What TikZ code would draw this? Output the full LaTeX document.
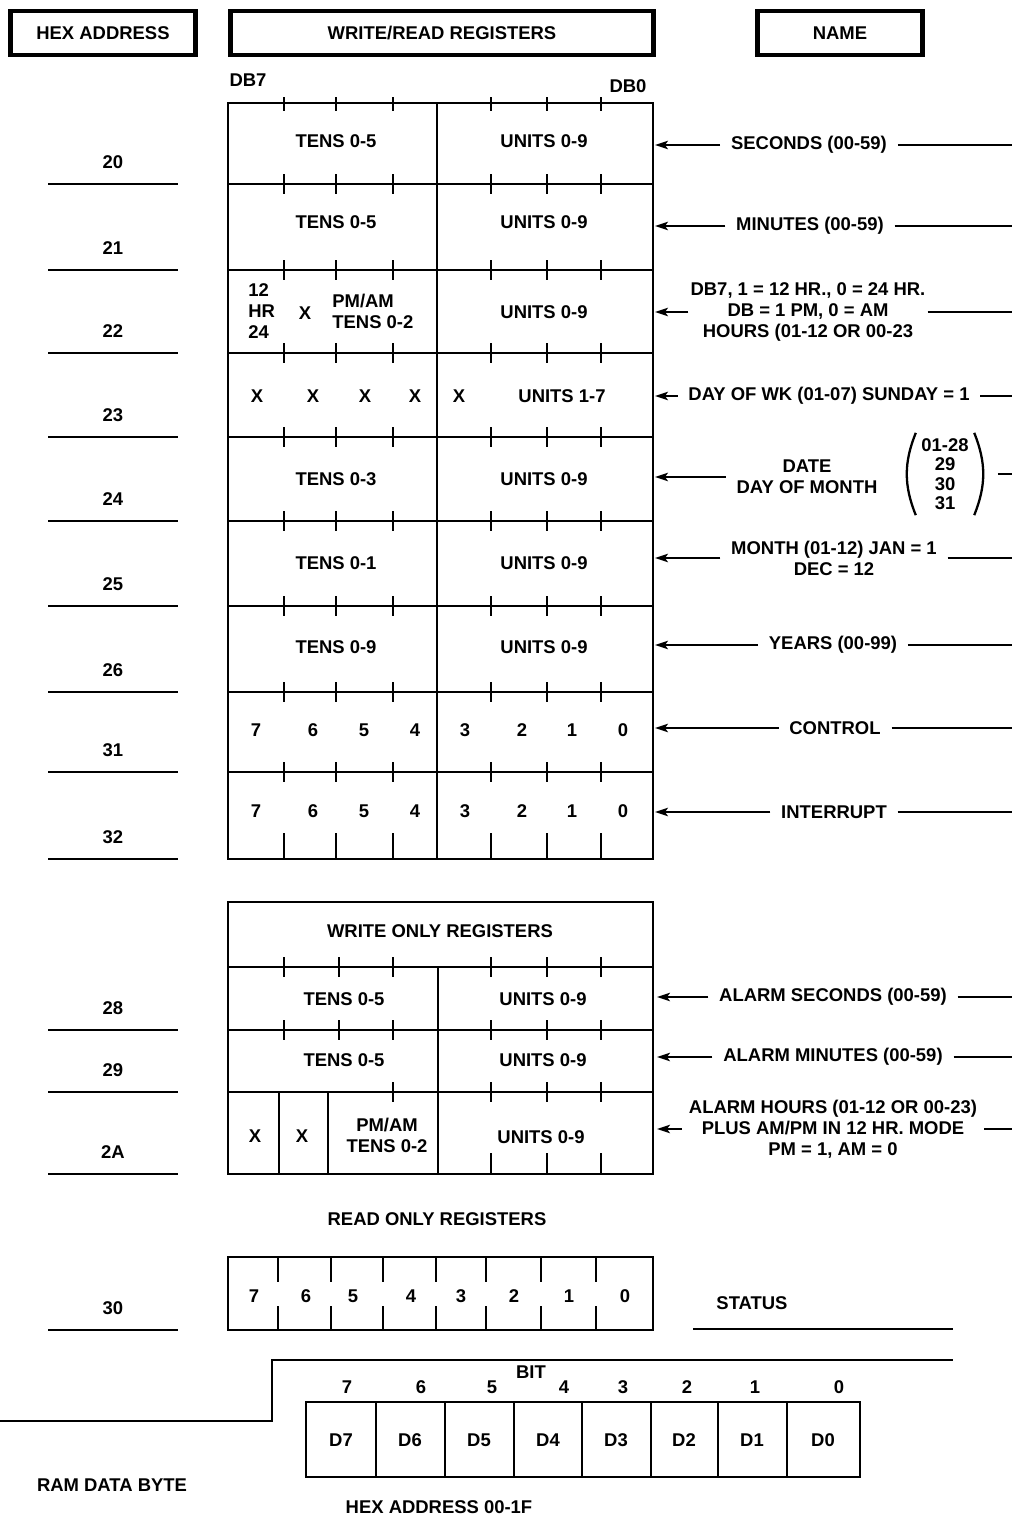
\documentclass[tikz,border=0pt]{standalone}
\usepackage{fontspec}
\setmainfont{Liberation Sans}
\usetikzlibrary{arrows.meta,positioning}

\begin{document}
\begin{tikzpicture}[
  x=0.02cm,y=-0.02cm,
  font=\fontsize{10.5}{12}\selectfont\bfseries,
  hdr/.style={draw,line width=2.8pt,inner sep=0pt,minimum height=0.88cm},
  txt/.style={inner xsep=6pt,inner ysep=1pt,align=center},
  reg/.style={line width=1.6pt},
  tick/.style={line width=1.1pt},
  thin/.style={line width=0.8pt},
  arr/.style={-{Stealth[length=2.6mm,width=1.7mm,inset=0.6mm]},line width=1pt},
  lead/.style={line width=1pt}
]
\useasboundingbox (0,0) rectangle (1015,1518);

% headings
\node[hdr,minimum width=3.7cm] (hHex) at (103,33) {HEX ADDRESS};
\node[hdr,minimum width=8.46cm] (hReg) at (442,33) {WRITE/READ REGISTERS};
\node[hdr,minimum width=3.3cm] (hName) at (840,33) {NAME};
\node (db7) at (248,80) {DB7};
\node (db0) at (628,86) {DB0};

\coordinate (tabR) at (655,0);
\coordinate (woR) at (657,0);
\coordinate (farR) at (1012,0);

% write/read registers
\draw[reg] (228,103) rectangle (653,859);
\draw[reg] (437,103) -- (437,859);
\foreach \y in {184,270,353,437,521,606,692,772}
  \draw[reg] (228,\y) -- (653,\y);
\foreach \x in {284,336,393,491,547,601} {
  \draw[tick] (\x,97) -- (\x,111);
  \foreach \y in {184,270,353,437,521,606,692,772}
    \draw[tick] (\x,\y-10) -- (\x,\y+10);
  \draw[tick] (\x,833) -- (\x,859);
}

\node (t20) at (336,141) {TENS 0-5};
\node (u20) at (544,141) {UNITS 0-9};
\node (t21) at (336,222) {TENS 0-5};
\node (u21) at (544,222) {UNITS 0-9};
\node[anchor=west,inner sep=0pt,align=left] (m22) at (248,311) {12\\HR\\24};
\node (x22) at (305,313) {X};
\node[anchor=west,inner sep=0pt,align=left] (t22) at (332,311) {PM/AM\\TENS 0-2};
\node (u22) at (544,312) {UNITS 0-9};
\foreach \x [count=\i] in {257,313,365,415,459}
  \node (x23\i) at (\x,396) {X};
\node (u23) at (562,396) {UNITS 1-7};
\node (t24) at (336,479) {TENS 0-3};
\node (u24) at (544,479) {UNITS 0-9};
\node (t25) at (336,563) {TENS 0-1};
\node (u25) at (544,563) {UNITS 0-9};
\node (t26) at (336,647) {TENS 0-9};
\node (u26) at (544,647) {UNITS 0-9};
\foreach \b/\x in {7/256,6/313,5/364,4/415,3/465,2/522,1/572,0/623} {
  \node (c\b) at (\x,730) {\b};
  \node (i\b) at (\x,811) {\b};
}

% write only registers
\draw[reg] (228,902) rectangle (653,1174);
\foreach \y in {967,1030,1092}
  \draw[reg] (228,\y) -- (653,\y);
\draw[reg] (438,967) -- (438,1174);
\draw[reg] (279,1092) -- (279,1174);
\draw[reg] (328,1092) -- (328,1174);
\foreach \x in {284,339,393,491,547,601} {
  \draw[tick] (\x,957) -- (\x,977);
  \draw[tick] (\x,1020) -- (\x,1040);
}
\foreach \x in {393,491,547,601}
  \draw[tick] (\x,1082) -- (\x,1102);
\foreach \x in {491,547,601}
  \draw[tick] (\x,1153) -- (\x,1174);

\node (wo) at (440,931) {WRITE ONLY REGISTERS};
\node (t28) at (344,999) {TENS 0-5};
\node (u28) at (543,999) {UNITS 0-9};
\node (t29) at (344,1060) {TENS 0-5};
\node (u29) at (543,1060) {UNITS 0-9};
\node (x2a1) at (255,1136) {X};
\node (x2a2) at (302,1136) {X};
\node[align=center] (t2a) at (387,1135) {PM/AM\\TENS 0-2};
\node (u2a) at (541,1137) {UNITS 0-9};

% hex addresses
\foreach \a/\y in {20/184,21/270,22/353,23/437,24/521,25/606,26/692,31/772,32/859,28/1030,29/1092,2A/1174,30/1330} {
  \node (a\a) at (113,\y-22) {\a};
  \draw[reg] (48,\y) -- (178,\y);
}

% names
\node[txt] (nSec) at (809,145) {SECONDS (00-59)};
\node[txt] (nMin) at (810,226) {MINUTES (00-59)};
\node[txt,inner xsep=1pt] (nHrs) at (808,312) {DB7, 1 = 12 HR., 0 = 24 HR.\\DB = 1 PM, 0 = AM\\HOURS (01-12 OR 00-23};
\node[txt] (nDay) at (829,396) {DAY OF WK (01-07) SUNDAY = 1};
\node[txt] (nDate) at (807,477) {DATE\\DAY OF MONTH};
\node[align=center,inner xsep=4pt,inner ysep=3pt,font=\fontsize{10.5}{11}\selectfont\bfseries] (nDom) at (945,474) {01-28\\29\\30\\31};
\draw[lead,line width=1.3pt] ([xshift=1pt]nDom.north west) to[bend right=22] ([xshift=1pt]nDom.south west);
\draw[lead,line width=1.3pt] ([xshift=-1pt]nDom.north east) to[bend left=22] ([xshift=-1pt]nDom.south east);
\node[txt] (nMon) at (834,558) {MONTH (01-12) JAN = 1\\DEC = 12};
\node[txt] (nYrs) at (833,645) {YEARS (00-99)};
\node[txt] (nCtl) at (835,728) {CONTROL};
\node[txt] (nInt) at (834,812) {INTERRUPT};
\node[txt] (nASec) at (833,997) {ALARM SECONDS (00-59)};
\node[txt] (nAMin) at (833,1057) {ALARM MINUTES (00-59)};
\node[txt,inner xsep=4pt] (nAHrs) at (833,1129) {ALARM HOURS (01-12 OR 00-23)\\PLUS AM/PM IN 12 HR. MODE\\PM = 1, AM = 0};

\foreach \n in {nSec,nMin,nHrs,nDay,nDate,nMon,nYrs,nCtl,nInt}
  \draw[arr] (\n.west) -- (\n.west -| tabR);
\foreach \n in {nASec,nAMin,nAHrs}
  \draw[arr] (\n.west) -- (\n.west -| woR);
\foreach \n in {nSec,nMin,nHrs,nDay,nMon,nYrs,nCtl,nInt,nASec,nAMin,nAHrs}
  \draw[lead] (\n.east) -- (\n.east -| farR);
\draw[lead] ([xshift=0.44cm]nDom.east) -- (nDom.east -| farR);

% read only registers
\node (ro) at (437,1219) {READ ONLY REGISTERS};
\draw[reg] (228,1257) rectangle (653,1330);
\foreach \x in {278,331,383,436,486,541,596} {
  \draw[thin] (\x,1257) -- (\x,1282);
  \draw[thin] (\x,1306) -- (\x,1330);
}
\foreach \b/\x in {7/254,6/306,5/353,4/411,3/461,2/514,1/569,0/625}
  \node (s\b) at (\x,1296) {\b};
\node (nSts) at (752,1303) {STATUS};
\draw[reg] (693,1329) -- (953,1329);

% ram data byte
\draw[reg] (0,1421) -- (272,1421) -- (272,1360) -- (953,1360);
\node (nBit) at (531,1372) {BIT};
\foreach \b/\x in {7/347,6/421,5/492,4/564,3/623,2/687,1/755,0/839}
  \node (d\b) at (\x,1387) {\b};
\draw[reg] (306,1402) rectangle (860,1477);
\foreach \x in {376,445,514,582,651,718,787}
  \draw[thin] (\x,1402) -- (\x,1477);
\foreach \b/\x in {7/341,6/410,5/479,4/548,3/616,2/684,1/752,0/823}
  \node (D\b) at (\x,1440) {D\b};
\node (nRam) at (112,1485) {RAM DATA BYTE};
\node (nRamA) at (439,1507) {HEX ADDRESS 00-1F};
\end{tikzpicture}
\end{document}
